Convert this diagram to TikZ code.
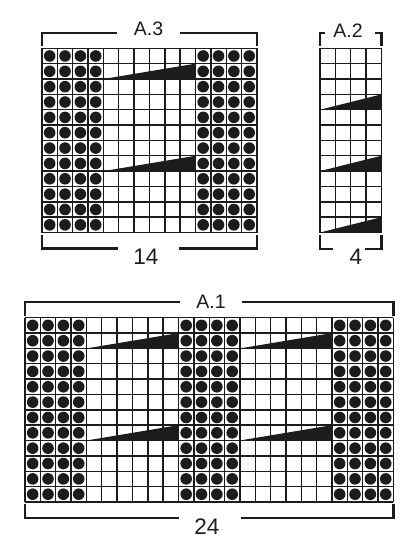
\documentclass[tikz,border=0pt]{standalone}
\usepackage{fontspec}
\setmainfont{Liberation Sans}
\definecolor{ink}{RGB}{28,28,28}
\begin{document}
\begin{tikzpicture}[x=1pt,y=-1pt,
  gridline/.style={line width=1.4pt, draw=ink},
  bracket/.style={line width=2.3pt, draw=ink, line cap=butt, line join=miter},
  dotfill/.style={fill=ink},
  wedgefill/.style={fill=ink},
  title/.style={font=\fontsize{19.5}{19.5}\selectfont, text=ink, inner sep=0pt},
  count/.style={font=\fontsize{22.5}{22.5}\selectfont, text=ink, inner sep=0pt}]
\useasboundingbox (0,0) rectangle (415,550);
\def\cs{15.35}

% ---------- A.3 : 14 x 12, origin (42,48.3)
\foreach \r in {0,...,11}{
  \foreach \c in {0,1,2,3,10,11,12,13}{
    \fill[dotfill] (42+\c*\cs+0.5*\cs, 48.3+\r*\cs+0.5*\cs) circle[radius=5.8pt];
  }
}
\foreach \r in {1,7}{
  \fill[wedgefill] (42+4*\cs, 48.3+\r*\cs+\cs) -- (42+10*\cs, 48.3+\r*\cs) -- (42+10*\cs, 48.3+\r*\cs+\cs) -- cycle;
}
\foreach \i in {0,...,14}{
  \draw[gridline] (42+\i*\cs, 48.3) -- (42+\i*\cs, 48.3+12*\cs);
}
\foreach \j in {0,...,12}{
  \draw[gridline] (42, 48.3+\j*\cs) -- (42+14*\cs, 48.3+\j*\cs);
}
\draw[bracket] (42,46) -- (42,33) -- (117,33);
\draw[bracket] (180,33) -- (42+14*\cs,33) -- (42+14*\cs,46);
\node[title] (t3) at (148.5,29) {A.3};
\draw[bracket] (42,234.5) -- (42,248.5) -- (118,248.5);
\draw[bracket] (179,248.5) -- (42+14*\cs,248.5) -- (42+14*\cs,234.5);
\node[count] (n3) at (146,257) {14};

% ---------- A.2 : 4 x 12, origin (320,48.3)
\foreach \r in {3,7,11}{
  \fill[wedgefill] (320, 48.3+\r*\cs+\cs) -- (320+4*\cs, 48.3+\r*\cs) -- (320+4*\cs, 48.3+\r*\cs+\cs) -- cycle;
}
\foreach \i in {0,...,4}{
  \draw[gridline] (320+\i*\cs, 48.3) -- (320+\i*\cs, 48.3+12*\cs);
}
\foreach \j in {0,...,12}{
  \draw[gridline] (320, 48.3+\j*\cs) -- (320+4*\cs, 48.3+\j*\cs);
}
\draw[bracket] (320,46) -- (320,33.3) -- (324.5,33.3);
\draw[bracket] (375,33.3) -- (320+4*\cs,33.3) -- (320+4*\cs,46);
\node[title] (t2) at (348,30.3) {A.2};
\draw[bracket] (320,235) -- (320,249) -- (333,249);
\draw[bracket] (365,249) -- (320+4*\cs,249) -- (320+4*\cs,235);
\node[count] (n2) at (356,257) {4};

% ---------- A.1 : 24 x 12, origin (25,317.7)
\foreach \r in {0,...,11}{
  \foreach \c in {0,1,2,3,10,11,12,13,20,21,22,23}{
    \fill[dotfill] (25+\c*\cs+0.5*\cs, 317.7+\r*\cs+0.5*\cs) circle[radius=5.8pt];
  }
}
\foreach \r in {1,7}{
  \foreach \s in {4,14}{
    \fill[wedgefill] (25+\s*\cs, 317.7+\r*\cs+\cs) -- (25+\s*\cs+6*\cs, 317.7+\r*\cs) -- (25+\s*\cs+6*\cs, 317.7+\r*\cs+\cs) -- cycle;
  }
}
\foreach \i in {0,...,24}{
  \draw[gridline] (25+\i*\cs, 317.7) -- (25+\i*\cs, 317.7+12*\cs);
}
\foreach \j in {0,...,12}{
  \draw[gridline] (25, 317.7+\j*\cs) -- (25+24*\cs, 317.7+\j*\cs);
}
\draw[bracket] (25,316) -- (25,302) -- (180,302);
\draw[bracket] (241.7,302) -- (25+24*\cs,302) -- (25+24*\cs,316);
\node[title] (t1) at (211,302) {A.1};
\draw[bracket] (25,504) -- (25,518.3) -- (179,518.3);
\draw[bracket] (241,518.3) -- (25+24*\cs,518.3) -- (25+24*\cs,504);
\node[count] (n1) at (207,526.5) {24};
\end{tikzpicture}
\end{document}
